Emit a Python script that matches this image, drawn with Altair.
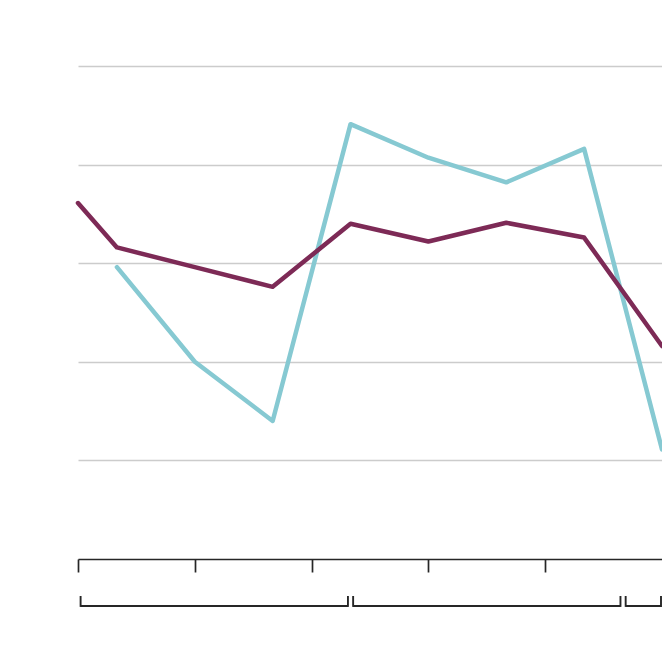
import altair as alt
import pandas as pd

# data
x_pos = [0, 1, 3, 5, 7, 9, 11, 13, 15]
purple_vals = [3.61, 3.16, 2.96, 2.76, 3.40, 3.22, 3.41, 3.26, 2.16]
teal_vals = [None, 2.96, 2.00, 1.40, 4.41, 4.07, 3.82, 4.16, 1.11]
tick_values = [0, 3, 6, 9, 12]
group_starts = [0, 7, 14]
group_ends = [7, 14, 15]

W, H = 584, 493
XMAX = 15
px_per_unit = W / XMAX
inset = 2.6 / px_per_unit
edge = XMAX - 1.0 / px_per_unit

rows = []
for x, p, t in zip(x_pos, purple_vals, teal_vals):
    rows.append({"x": x, "series": "A", "v": p})
    if t is not None:
        rows.append({"x": x, "series": "B", "v": t})
df = pd.DataFrame(rows)

brk = pd.DataFrame({
    "s": [s + inset for s in group_starts],
    "e": [min(e - inset, edge) if e < XMAX else edge for e in group_ends],
})

xscale = alt.Scale(domain=[0, XMAX], nice=False, zero=False)
yscale = alt.Scale(domain=[0, 5], nice=False)

AX = "#262626"

base_x = alt.X("x:Q", scale=xscale,
               axis=alt.Axis(values=tick_values, labels=False, title=None, grid=False,
                             domain=True, domainColor=AX, domainWidth=1.7,
                             ticks=True, tickColor=AX, tickWidth=1.7, tickSize=13))

teal = alt.Chart(df).transform_filter(alt.datum.series == "B").mark_line(
    color="#86c9d2", strokeWidth=4.5, strokeCap="round", strokeJoin="round"
).encode(
    x=base_x,
    y=alt.Y("v:Q", scale=yscale,
            axis=alt.Axis(values=[1, 2, 3, 4, 5], labels=False, ticks=False, domain=False,
                          title=None, grid=True, gridColor="#cccccc", gridWidth=1.6)),
)

purple = alt.Chart(df).transform_filter(alt.datum.series == "A").mark_line(
    color="#7d2a56", strokeWidth=4.5, strokeCap="round", strokeJoin="round"
).encode(
    x=alt.X("x:Q", scale=xscale),
    y=alt.Y("v:Q", scale=yscale),
)

hbar = alt.Chart(brk).mark_rule(color=AX, strokeWidth=1.9).encode(
    x=alt.X("s:Q", scale=xscale),
    x2="e:Q",
    y=alt.value(540),
)
vleft = alt.Chart(brk).mark_rule(color=AX, strokeWidth=1.9).encode(
    x=alt.X("s:Q", scale=xscale),
    y=alt.value(530),
    y2=alt.value(540.9),
)
vright = alt.Chart(brk).mark_rule(color=AX, strokeWidth=1.9).encode(
    x=alt.X("e:Q", scale=xscale),
    y=alt.value(530),
    y2=alt.value(540.9),
)

chart = alt.layer(teal, purple, hbar, vleft, vright).properties(
    width=W, height=H,
    autosize=alt.AutoSizeParams(type="none"),
    padding={"left": 70, "top": 58, "right": 0, "bottom": 60},
).configure_view(stroke=None)

chart.save("out.html", embed_options={"renderer": "svg", "actions": False})
